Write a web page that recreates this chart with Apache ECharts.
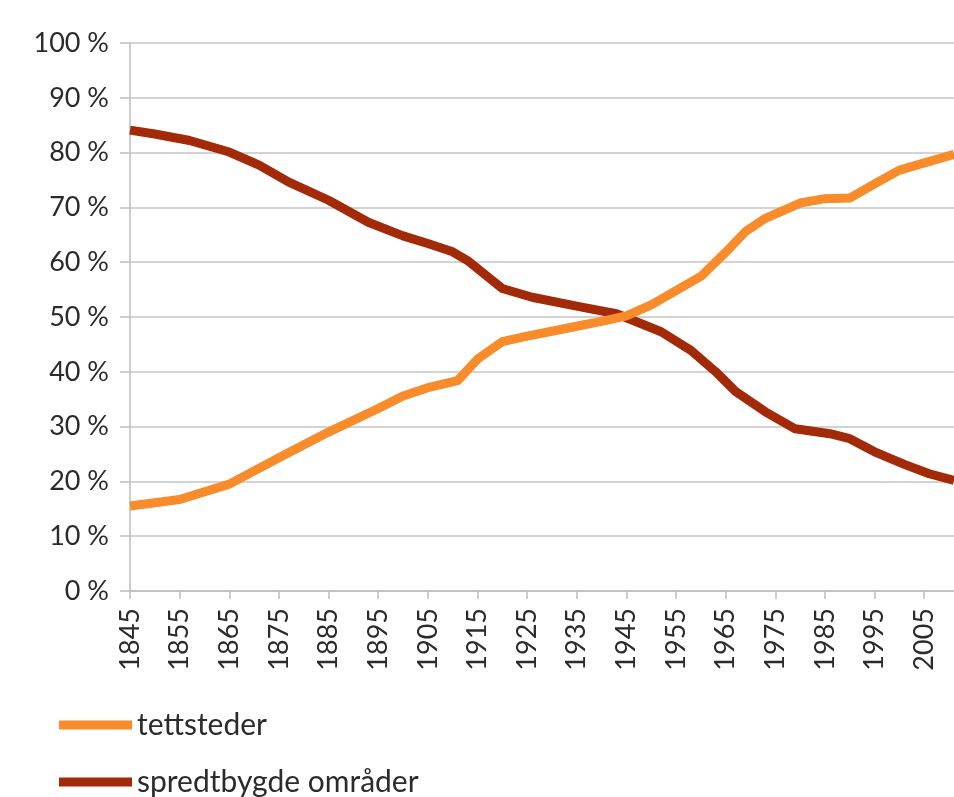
<!DOCTYPE html>
<html>
<head>
<meta charset="utf-8">
<script src="https://cdn.jsdelivr.net/npm/echarts@6/dist/echarts.min.js"></script>
<style>
html,body{margin:0;padding:0;background:#fff;}
#chart{width:954px;height:797px;}
</style>
</head>
<body>
<div id="chart"></div>
<script>
// Tick labels on the x axis
var xTickYears = [1845,1855,1865,1875,1885,1895,1905,1915,1925,1935,1945,1955,1965,1975,1985,1995,2005];

// tettsteder (urban settlements), share in %
var tettYears  = [1845,1855,1865,1875,1885,1895,1900,1905,1911,1915,1920,1925,1930,1936,1940,1945,1950,1955,1960,1965,1969,1973,1980,1985,1990,1995,2000,2011];
var tettValues = [15.5,16.7,19.5,24.3,29.0,33.3,35.6,37.1,38.4,42.3,45.5,46.5,47.4,48.5,49.2,50.2,52.2,54.8,57.4,61.8,65.6,68.0,70.8,71.6,71.7,74.3,76.8,79.7];

// spredtbygde områder (sparsely populated areas), share in %
var sprYears  = [1845,1850,1857,1865,1871,1877,1885,1893,1900,1905,1910,1913,1920,1926,1936,1943,1952,1958,1963,1967,1973,1979,1986,1990,1995,2001,2006,2011];
var sprValues = [84.1,83.4,82.2,80.1,77.7,74.6,71.3,67.3,64.8,63.4,61.9,60.3,55.2,53.6,51.8,50.6,47.3,43.9,40.0,36.4,32.7,29.6,28.7,27.8,25.4,23.1,21.4,20.2];

var seriesNames = ['tettsteder','spredtbygde områder'];

function pairs(xs, ys){ return xs.map(function(x,i){ return [x, ys[i]]; }); }

var FONT = 'Lato';
var TXT = '#2b2b2b';
function legendAt(name, top){
  return {
    orient: 'vertical', left: 59, top: top, padding: 0,
    data: [name],
    icon: 'rect', itemWidth: 73, itemHeight: 9,
    textStyle: {fontFamily: FONT, fontSize: 30, color: TXT, lineHeight: 30}
  };
}
var chart = echarts.init(document.getElementById('chart'));
chart.setOption({
  animation: false,
  backgroundColor: '#ffffff',
  grid: {left: 130, right: 0, top: 43, bottom: 206, containLabel: false},
  xAxis: {
    type: 'value', min: 1845, max: 2011,
    axisLine: {show: true, lineStyle: {color: '#BDBDBD', width: 1.5}},
    axisTick: {show: true, length: 8, lineStyle: {color: '#BDBDBD', width: 1.5}, customValues: xTickYears},
    axisLabel: {show: true, rotate: 90, margin: 17, fontFamily: FONT, fontSize: 27, color: TXT, customValues: xTickYears, formatter: function(v){return String(v);}},
    splitLine: {show: false}
  },
  yAxis: {
    type: 'value', min: 0, max: 100, interval: 10,
    axisLine: {show: true, lineStyle: {color: '#BDBDBD', width: 1.5}},
    axisTick: {show: true, inside: false, length: 10, lineStyle: {color: '#BDBDBD', width: 1.5}},
    axisLabel: {margin: 21, fontFamily: FONT, fontSize: 27, color: TXT, formatter: '{value} %'},
    splitLine: {show: true, lineStyle: {color: '#C4C4C4', width: 1.5}}
  },
  legend: [legendAt(seriesNames[0], 710), legendAt(seriesNames[1], 767)],
  series: [
    {name: seriesNames[1], type: 'line', data: pairs(sprYears, sprValues), showSymbol: false, z: 2,
     lineStyle: {color: '#A32A08', width: 9, join: 'round', cap: 'butt'}, itemStyle: {color: '#A32A08'}},
    {name: seriesNames[0], type: 'line', data: pairs(tettYears, tettValues), showSymbol: false, z: 3,
     lineStyle: {color: '#F88B2A', width: 9, join: 'round', cap: 'butt'}, itemStyle: {color: '#F88B2A'}}
  ]
});
</script>
</body>
</html>
